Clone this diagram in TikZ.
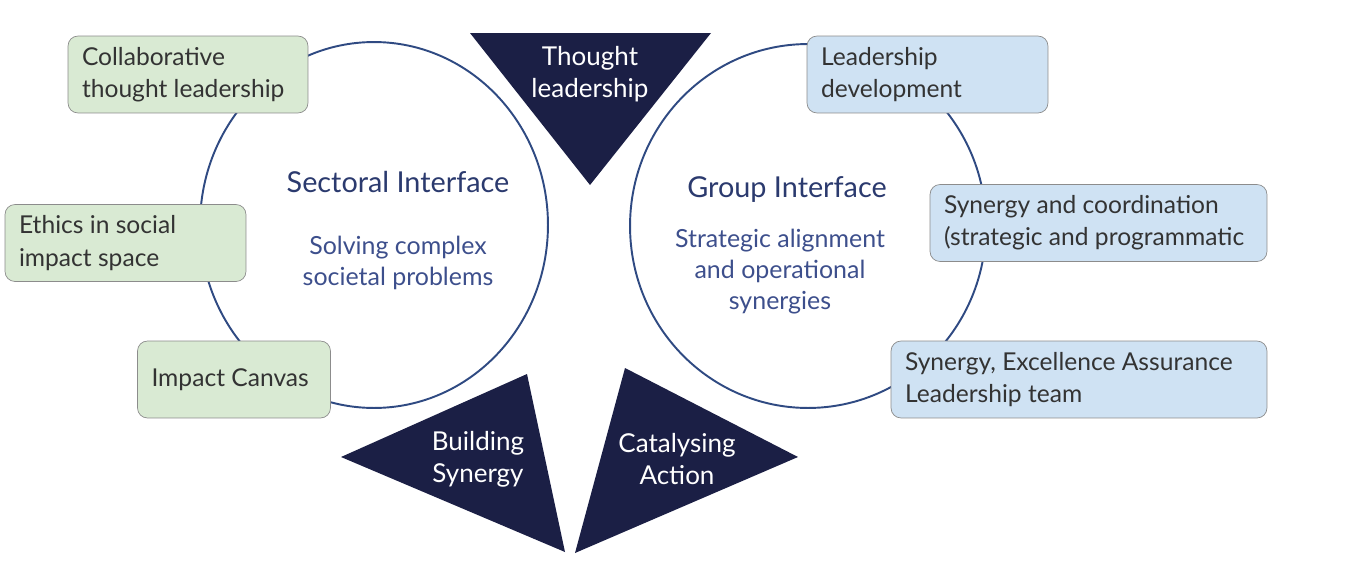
\documentclass[tikz,border=0pt]{standalone}
\usepackage{fontspec}
\setmainfont{Lato}
\usetikzlibrary{shapes.geometric}
\definecolor{navy}{HTML}{1B1F45}
\definecolor{ringline}{HTML}{2F4A82}
\definecolor{titletext}{HTML}{2B3A6E}
\definecolor{subtext}{HTML}{3D4F8C}
\definecolor{greenfill}{HTML}{D9EAD3}
\definecolor{bluefill}{HTML}{CFE2F3}
\definecolor{boxline}{HTML}{8C8C8C}
\definecolor{boxtext}{HTML}{333333}
\begin{document}
\begin{tikzpicture}[x=0.02cm,y=-0.02cm,
  ring/.style={draw=ringline,line width=1.1pt,ellipse,inner sep=0pt},
  box/.style={draw=boxline,rounded corners=2mm,minimum height=1.54cm,inner xsep=0.28cm,
    align=flush left,text=boxtext,font=\fontsize{14}{18.3}\selectfont},
  greenbox/.style={box,fill=greenfill},
  bluebox/.style={box,fill=bluefill},
  wedge/.style={fill=navy},
  wedgetext/.style={text=white,align=center,font=\fontsize{14.8}{18.3}\selectfont},
  title/.style={text=titletext,font=\fontsize{16.4}{19}\selectfont},
  subtitle/.style={text=subtext,align=center,font=\fontsize{14.2}{17.6}\selectfont}
]
\useasboundingbox (0,0) rectangle (1349,565);

% the two interfaces
\node[ring,minimum width=6.96cm,minimum height=7.32cm] (sectoral) at (374,225) {};
\node[ring,minimum width=7.12cm,minimum height=7.28cm] (group) at (808,226) {};
\node[title] (sectitle) at (398,182) {Sectoral Interface};
\node[subtitle] (secsub) at (398,263) {Solving complex\\societal problems};
\node[title] (grptitle) at (787,189) {Group Interface};
\node[subtitle] (grpsub) at (780,272) {Strategic alignment\\and operational\\synergies};

% wedges
\coordinate (th1) at (470,33);
\coordinate (th2) at (711,33);
\coordinate (th3) at (590,185);
\fill[wedge] (th1) -- (th2) -- (th3) -- cycle;
\node[wedgetext] (thought) at (590,74) {Thought\\leadership};

\coordinate (bs1) at (341,457);
\coordinate (bs2) at (527,374);
\coordinate (bs3) at (565,552);
\fill[wedge] (bs1) -- (bs2) -- (bs3) -- cycle;
\node[wedgetext] (building) at (478,459) {Building\\Synergy};

\coordinate (ca1) at (625,368);
\coordinate (ca2) at (798,457);
\coordinate (ca3) at (575,553);
\fill[wedge] (ca1) -- (ca2) -- (ca3) -- cycle;
\node[wedgetext] (catalysing) at (677,459) {Catalysing\\Action};

% sectoral boxes
\node[greenbox,text width=4.24cm] (collab) at (188,74.5) {Collaborative\\thought leadership};
\node[greenbox,text width=4.26cm] (ethics) at (125.5,243) {Ethics in social\\impact space};
\node[greenbox,text width=3.3cm] (canvas) at (234,379.5) {Impact Canvas};

% group boxes
\node[bluebox,text width=4.26cm] (leaddev) at (927.5,74.5) {Leadership\\development};
\node[bluebox,text width=6.18cm] (coord) at (1098.5,223) {Synergy and coordination\\(strategic and programmatic};
\node[bluebox,text width=6.96cm] (assure) at (1079,379.5) {Synergy, Excellence Assurance\\Leadership team};
\end{tikzpicture}
\end{document}
